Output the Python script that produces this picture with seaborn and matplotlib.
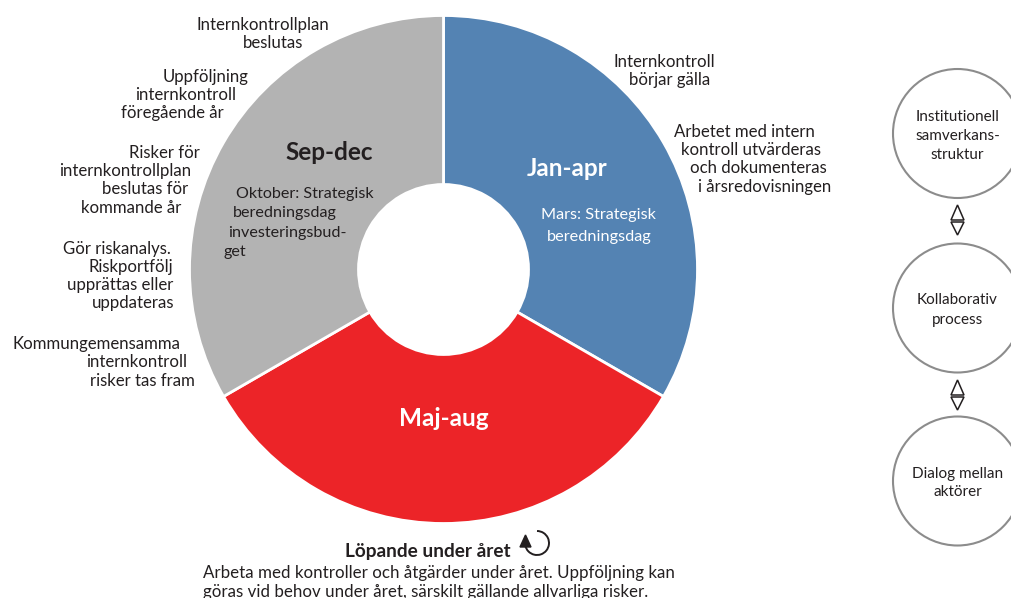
import matplotlib.pyplot as plt
import seaborn as sns
from matplotlib.patches import Arc, Circle, Polygon

W, H = 1011, 598

# months in each period, clockwise from twelve o'clock
periods = ["Jan-apr", "Maj-aug", "Sep-dec"]
months = [4, 4, 4]
period_colors = ["#5483B3", "#EC2428", "#B3B3B3"]

right_notes = ["Internkontroll", "börjar gälla", "Arbetet med intern", "kontroll utvärderas",
               "och dokumenteras", "i årsredovisningen"]
left_notes = ["Internkontrollplan", "beslutas", "Uppföljning", "internkontroll", "föregående år",
              "Risker för", "internkontrollplan", "beslutas för", "kommande år",
              "Gör riskanalys.", "Riskportfölj", "upprättas eller", "uppdateras",
              "Kommungemensamma", "internkontroll", "risker tas fram"]
jan_notes = ["Mars: Strategisk", "beredningsdag"]
sep_notes = ["Oktober: Strategisk", "beredningsdag", "investeringsbud-", "get"]
bottom_title = "Löpande under året"
bottom_notes = ["Arbeta med kontroller och åtgärder under året. Uppföljning kan",
                "göras vid behov under året, särskilt gällande allvarliga risker."]
circle_labels = [["Institutionell", "samverkans-", "struktur"],
                 ["Kollaborativ", "process"],
                 ["Dialog mellan", "aktörer"]]

sns.set_theme(style="white")
plt.rcParams["font.family"] = ["Lato", "DejaVu Sans"]

fig = plt.figure(figsize=(W / 100, H / 100), dpi=100)
ax = fig.add_axes([0, 0, 1, 1])
ax.set_xlim(0, W)
ax.set_ylim(H, 0)
ax.axis("off")

INK = "#231F20"


def put(x, y, s, size=12.1, color=INK, weight="normal"):
    ax.text(x, y + 1, s, ha="center", va="center", fontsize=size, color=color, fontweight=weight)


# pie on its own axes so that the y axis isn't flipped, aligned to pixel positions
pie_ax = fig.add_axes([0, 0, 1, 1])
pie_ax.pie(
    months,
    colors=sns.color_palette(period_colors),
    startangle=90,
    counterclock=False,
    center=(443.5, H - 269.5),
    radius=254,
    frame=True,
    wedgeprops={"width": 169, "edgecolor": "white", "linewidth": 2},
)
pie_ax.set_xlim(0, W)
pie_ax.set_ylim(0, H)
pie_ax.set_aspect("auto")
pie_ax.axis("off")
pie_ax.set_zorder(0)
ax.set_zorder(1)

# period names
put(567, 167, periods[0], size=17.5, color="white", weight="bold")
put(444, 418, periods[1], size=17.5, color="white", weight="bold")
put(329, 152, periods[2], size=17.5, weight="bold")

# notes next to the ring
right_pos = [(664, 61), (670, 79), (744, 131), (751, 149), (758, 167), (765, 186)]
for (x, y), s in zip(right_pos, right_notes):
    put(x, y, s)
left_pos = [(263, 24), (273, 42), (206, 76), (186, 94), (172, 112),
            (164, 152), (125, 170), (145, 188), (131, 207),
            (117, 248), (131, 266), (120, 284), (133, 302),
            (97, 343), (137, 361), (142, 380)]
for (x, y), s in zip(left_pos, left_notes):
    put(x, y, s)

# notes inside the ring
for (x, y), s in zip([(598, 214), (599, 236)], jan_notes):
    put(x, y, s, size=11.7, color="white")
for (x, y), s in zip([(305, 193), (285, 212), (287, 232), (235, 251)], sep_notes):
    put(x, y, s, size=11.6)

# running through the year
put(428, 550, bottom_title, size=13.7, weight="bold")
for (x, y), s in zip([(438.5, 572), (426, 591)], bottom_notes):
    put(x, y, s, size=12.15)
ax.add_patch(Arc((537, 543), 24, 24, theta1=-90, theta2=168, color=INK, lw=1.4))
ax.add_patch(Polygon([(520, 547), (531, 547), (525.5, 535)], closed=True, color=INK))

# the three circles on the right
GREY = "#8C8C8C"
circle_y = [133.5, 308, 481]
text_y = [[116, 135, 154], [299, 319], [473, 491]]
for cy, ys, labels in zip(circle_y, text_y, circle_labels):
    ax.add_patch(Circle((957.5, cy), 64.5, fill=False, edgecolor=GREY, lw=1.5))
    for y, s in zip(ys, labels):
        put(957.5, y, s, size=11)

# double arrows between them
for top in [205, 380]:
    ax.add_patch(Polygon([(957.5, top), (951, top + 15), (964, top + 15)], closed=True,
                         fill=False, edgecolor=INK, lw=1.1))
    ax.add_patch(Polygon([(951, top + 17), (964, top + 17), (957.5, top + 30)], closed=True,
                         fill=False, edgecolor=INK, lw=1.1))

fig.savefig("out.png", dpi=100)
